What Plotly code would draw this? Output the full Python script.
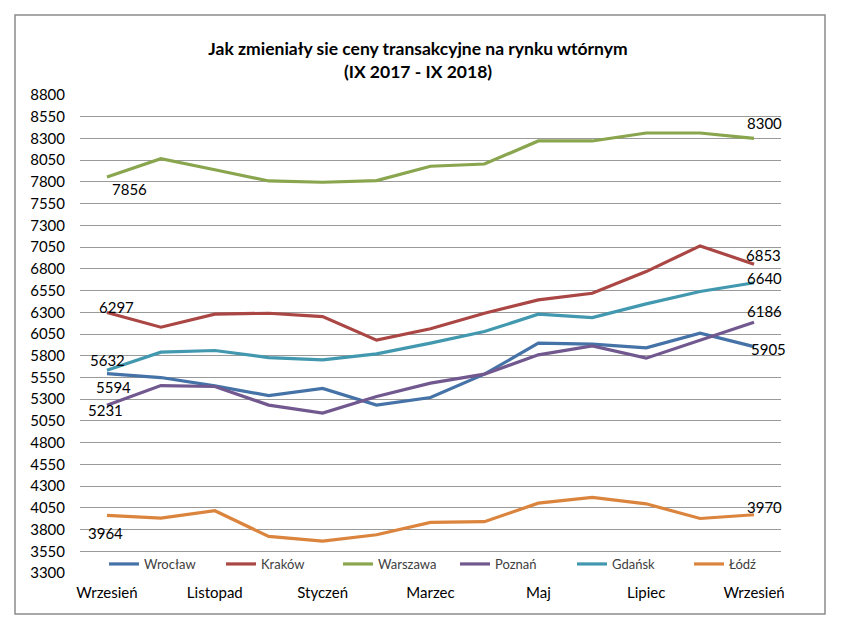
import plotly.graph_objects as go

months = ["Wrzesień", "Październik", "Listopad", "Grudzień", "Styczeń", "Luty",
          "Marzec", "Kwiecień", "Maj", "Czerwiec", "Lipiec", "Sierpień", "Wrzesień"]
tick_idx = [0, 2, 4, 6, 8, 10, 12]
tick_text = ["Wrzesień", "Listopad", "Styczeń", "Marzec", "Maj", "Lipiec", "Wrzesień"]

wroclaw = [5594, 5549, 5453, 5342, 5423, 5232, 5319, 5588, 5944, 5933, 5890, 6060, 5905]
krakow = [6297, 6128, 6278, 6289, 6250, 5979, 6110, 6289, 6442, 6519, 6768, 7064, 6853]
warszawa = [7856, 8068, 7940, 7811, 7796, 7815, 7980, 8006, 8271, 8271, 8363, 8363, 8300]
poznan = [5231, 5457, 5446, 5232, 5140, 5330, 5485, 5588, 5810, 5914, 5772, 5982, 6186]
gdansk = [5632, 5841, 5860, 5779, 5753, 5821, 5945, 6078, 6278, 6239, 6397, 6539, 6640]
lodz = [3964, 3932, 4016, 3721, 3667, 3740, 3882, 3890, 4104, 4169, 4096, 3927, 3970]

series = [
    ("Wrocław", wroclaw, "#4572A7"),
    ("Kraków", krakow, "#AA4643"),
    ("Warszawa", warszawa, "#89A54E"),
    ("Poznań", poznan, "#71588F"),
    ("Gdańsk", gdansk, "#4198AF"),
    ("Łódź", lodz, "#DB843D"),
]

# label offsets (pixels) for first / last point of each series
first_off = {"Wrocław": (7, -13), "Kraków": (10, 6), "Warszawa": (23, -12),
             "Poznań": (-1, -5), "Gdańsk": (1, 10), "Łódź": (-1, -18)}
last_off = {"Wrocław": (14, -2), "Kraków": (9, 9), "Warszawa": (10, 15),
            "Poznań": (10, 11), "Gdańsk": (10, 5), "Łódź": (10, 8)}

FONT = "Lato, Carlito, Calibri, 'Liberation Sans', sans-serif"

fig = go.Figure()
xs = list(range(len(months)))
for name, vals, col in series:
    fig.add_trace(go.Scatter(x=xs, y=vals, mode="lines", name=name,
                             line=dict(color=col, width=3.2),
                             hoverinfo="skip"))

annotations = []
for name, vals, col in series:
    dx, dy = first_off[name]
    annotations.append(dict(x=xs[0], y=vals[0], xref="x", yref="y", text=str(vals[0]),
                            showarrow=False, xshift=dx, yshift=dy,
                            font=dict(family=FONT, size=15, color="#000000")))
    dx, dy = last_off[name]
    annotations.append(dict(x=xs[-1], y=vals[-1], xref="x", yref="y", text=str(vals[-1]),
                            showarrow=False, xshift=dx, yshift=dy,
                            font=dict(family=FONT, size=15, color="#000000")))

W, H = 852, 634
L, R, T, B = 80, 71, 95, 61
pw, ph = W - L - R, H - T - B

def px_x(p):
    return (p - L) / pw

def px_y(p):
    return (H - B - p) / ph

fig.update_layout(
    width=W, height=H,
    margin=dict(l=L, r=R, t=T, b=B, pad=0, autoexpand=False),
    paper_bgcolor="white", plot_bgcolor="white",
    font=dict(family=FONT, size=15, color="#000000"),
    title=dict(text="<b>Jak zmieniały sie ceny transakcyjne na rynku wtórnym<br>(IX 2017 - IX 2018)</b>",
               x=418 / W, xanchor="center", y=1 - 55 / H, yanchor="middle",
               font=dict(family=FONT, size=17.5, color="#000000")),
    xaxis=dict(range=[-0.5, 12.5], tickmode="array", tickvals=tick_idx, ticktext=tick_text,
               showgrid=False, zeroline=False, showline=False, ticks="",
               ticklabelstandoff=9, tickfont=dict(size=15, color="#000000"), fixedrange=True),
    yaxis=dict(range=[3300, 8800], dtick=250, tick0=3300, showgrid=True,
               gridcolor="#9a9a9a", gridwidth=1, zeroline=False, showline=False, ticks="",
               ticklabelstandoff=14, tickfont=dict(size=15, color="#000000"), fixedrange=True),
    legend=dict(orientation="h", x=px_x(104), y=px_y(564),
                xanchor="left", yanchor="middle",
                bgcolor="rgba(0,0,0,0)", entrywidth=72, entrywidthmode="pixels",
                font=dict(family=FONT, size=13, color="#404040"),
                itemwidth=30, tracegroupgap=0),
    annotations=annotations,
    shapes=[dict(type="rect", xref="paper", yref="paper",
                 x0=px_x(15), x1=px_x(825), y0=px_y(614), y1=px_y(15),
                 line=dict(color="#8c8c8c", width=1.5), fillcolor="rgba(0,0,0,0)", layer="below")],
    showlegend=True,
)

fig.write_html("out.html", config={"displayModeBar": False},
               post_script="document.body.style.margin='0';document.body.style.overflow='hidden';")
